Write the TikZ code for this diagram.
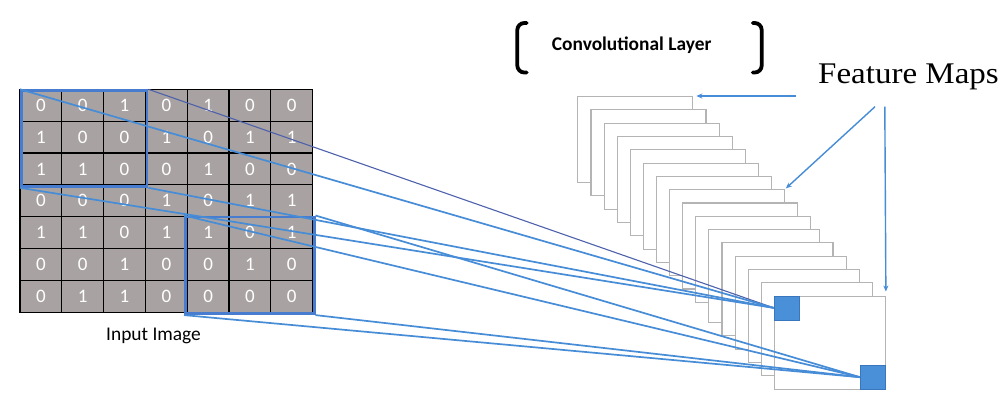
\documentclass[tikz,border=0pt]{standalone}
\usepackage{fontspec}
\setmainfont{Carlito}
\newfontfamily\timesf{Liberation Serif}
\usetikzlibrary{arrows.meta}
\definecolor{cellgray}{RGB}{168,163,162}
\definecolor{boxblue}{RGB}{72,124,206}
\definecolor{linkblue}{RGB}{70,140,214}
\definecolor{darkline}{RGB}{78,98,172}
\definecolor{mapgray}{RGB}{180,180,180}
\definecolor{sqblue}{RGB}{74,144,217}
\definecolor{sqedge}{RGB}{58,118,190}
\tikzset{
  cell/.style={draw=black, line width=1.2pt, fill=cellgray, minimum width=41.81pt,
    minimum height=31.86pt, inner sep=0pt, text=white, font=\fontsize{19}{19}\selectfont},
  bluebox/.style={draw=boxblue, line width=2.8pt, inner sep=0pt, anchor=north west},
  fmap/.style={draw=mapgray, line width=1.1pt, fill=white, inner sep=0pt, anchor=north west},
  sq/.style={draw=sqedge, line width=0.8pt, fill=sqblue, minimum width=25pt, minimum height=24pt, inner sep=0pt},
  link/.style={draw=linkblue, line width=1.7pt},
  thinlink/.style={draw=darkline, line width=1.1pt},
  fmarrow/.style={draw=linkblue, line width=1.4pt, -{Stealth[length=6pt,width=5pt]}},
  bracket/.style={draw=black, line width=3.8pt, line cap=round, rounded corners=7pt},
  lbl/.style={inner sep=0pt, anchor=base west}
}
\begin{document}
\begin{tikzpicture}[x=1pt,y=-1pt]
\useasboundingbox (0,0) rectangle (1000,392);
\fill[white] (0,0) rectangle (1000,392);

% input grid
\foreach \row [count=\i] in {{0,0,1,0,1,0,0},{1,0,0,1,0,1,1},{1,1,0,0,1,0,0},{0,0,0,1,0,1,1},{1,1,0,1,1,0,1},{0,0,1,0,0,1,0},{0,1,1,0,0,0,0}}{
  \foreach \v [count=\j] in \row {
    \node[cell] (c\i-\j) at ({20+41.81*(\j-0.5)},{89.3+31.86*(\i-0.5)}) {\raisebox{-1pt}{\v}};
  }
}
\node[bluebox, minimum width=125.6pt, minimum height=95.7pt] (box1) at (20,89.3) {};
\node[bluebox, minimum width=128.7pt, minimum height=96.8pt] (box2) at (184,215.5) {};

\node[lbl, font=\fontsize{19.4}{20}\selectfont] (inp) at (106,340) {Input Image};

% feature maps stack
\foreach \k in {0,...,15}{
  \pgfmathsetmacro\w{\k<10 ? 115 : 111}
  \pgfmathsetmacro\h{\k<10 ? 86 : 93}
  \node[fmap, minimum width=\w pt, minimum height=\h pt] (m\k) at ({577.3+13.1*\k},{96+13.3*\k}) {};
}
\node[sq, anchor=north west] (s1) at (m15.north west) {};
\node[sq, anchor=south east] (s2) at (m15.south east) {};

% connectors
\draw[thinlink] (box1.north east) -- (s1.west);
\draw[link] (box1.north west) -- (s1.west);
\draw[link] (box1.south west) -- (s1.west);
\draw[link] (box1.south east) -- (s1.west);
\draw[link] (box2.north west) -- (s2.west);
\draw[link] (box2.north east) -- (s2.west);
\draw[link] (box2.south west) -- (s2.west);
\draw[link] (box2.south east) -- (s2.west);
\node[sq, anchor=north west] at (m15.north west) {};
\node[sq, anchor=south east] at (m15.south east) {};

% title and brackets
\node[lbl, font=\bfseries\fontsize{19.4}{20}\selectfont] (conv) at (551.7,50) {Convolutional Layer};
\draw[bracket] (526.7,23) -- (517.3,23) -- (517.3,72.5) -- (526.7,72.5);
\draw[bracket] (752.7,23) -- (761.7,23) -- (761.7,72.5) -- (752.7,72.5);

% feature maps label and arrows
\node[lbl, font=\timesf\fontsize{30}{30}\selectfont] (fm) at (818,83.3) {\scalebox{1.1}[1]{Feature Maps}};
\coordinate (a1) at (796,96);
\coordinate (a2) at (875,106.7);
\coordinate (a3) at (884.8,106.7);
\draw[fmarrow, shorten >=3pt] (a1) -- (m0.north east);
\draw[fmarrow, shorten >=1pt] (a2) -- (m7.north east);
\draw[fmarrow, shorten >=4pt] (a3) -- (m15.north east);
\end{tikzpicture}
\end{document}
